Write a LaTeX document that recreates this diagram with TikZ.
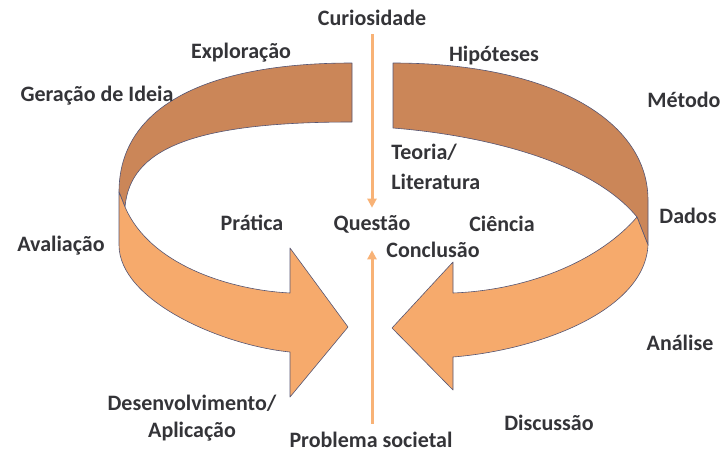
\documentclass[tikz,border=0pt]{standalone}
\usepackage{fontspec}
\setmainfont{Carlito}
\usepackage{xcolor}
\usepackage{tikz}
\usetikzlibrary{arrows.meta}

\definecolor{bandback}{RGB}{203,134,88}
\definecolor{bandfront}{RGB}{246,170,108}
\definecolor{bandline}{RGB}{85,85,115}
\definecolor{axisarrow}{RGB}{248,178,118}
\definecolor{labeltext}{RGB}{52,52,56}

\begin{document}
\begin{tikzpicture}[x=1pt, y=-1pt, >={Triangle[length=9pt, width=9pt]}, thick]
    \tikzset{
        lbl/.style={inner sep=0pt, text=labeltext, font=\bfseries\fontsize{22}{27}\selectfont},
        back/.style={fill=bandback, draw=bandline, line width=0.6pt, line join=round},
        front/.style={fill=bandfront, draw=bandline, line width=0.6pt, line join=round},
        axis/.style={draw=axisarrow, line width=3pt, ->}
    }
    \useasboundingbox (0,0) rectangle (721,453);

    % back halves of the ring
    \path [back] (352,63) .. controls (200,63) and (119,110) .. (119,192) -- (125,207) .. controls (130,150) and (190,122) .. (352,122) -- cycle;
    \path [back] (393,63) .. controls (550,63) and (648,120) .. (648,200) -- (648,245) -- (637,217) .. controls (590,160) and (480,135) .. (393,128) -- cycle;

    % front arrows
    \path [front] (119,192) -- (125,207) .. controls (150,265) and (230,290) .. (290,293) -- (290,248) -- (348,327) -- (290,397) -- (290,352) .. controls (220,345) and (119,300) .. (119,245) -- cycle;
    \path [front] (637,217) -- (648,245) .. controls (645,310) and (540,350) .. (453,357) -- (453,390) -- (392,328) -- (453,262) -- (453,293) .. controls (530,290) and (600,260) .. (637,217) -- cycle;

    \node [lbl] (Curiosidade) at (372,18) {Curiosidade};
    \node [lbl] (Exploracao) at (241,53) {Exploração};
    \node [lbl] (Hipoteses) at (494,56) {Hipóteses};
    \node [lbl] (Geracao) at (97,96) {Geração de Ideia};
    \node [lbl] (Metodo) at (684,100) {Método};
    \node [lbl, anchor=west, align=left] (Teoria) at (391,167) {Teoria/\\[3pt]Literatura};
    \node [lbl] (Pratica) at (252,223) {Prática};
    \node [lbl] (Questao) at (372,224) {Questão};
    \node [lbl] (Ciencia) at (502,224) {Ciência};
    \node [lbl] (Conclusao) at (433,250) {Conclusão};
    \node [lbl] (Dados) at (688,216) {Dados};
    \node [lbl] (Avaliacao) at (61,246) {Avaliação};
    \node [lbl] (Analise) at (680,343) {Análise};
    \node [lbl, align=center] (Desenvolvimento) at (192,418) {Desenvolvimento/\\Aplicação};
    \node [lbl] (Discussao) at (549,423) {Discussão};
    \node [lbl] (Problema) at (371,440) {Problema societal};

    \draw [axis, shorten <=8pt, shorten >=7pt] (Curiosidade) -- (Questao);
    \draw [axis, shorten <=8pt, shorten >=17pt] (Problema.north -| Questao) -- (Questao);

\end{tikzpicture}
\end{document}
